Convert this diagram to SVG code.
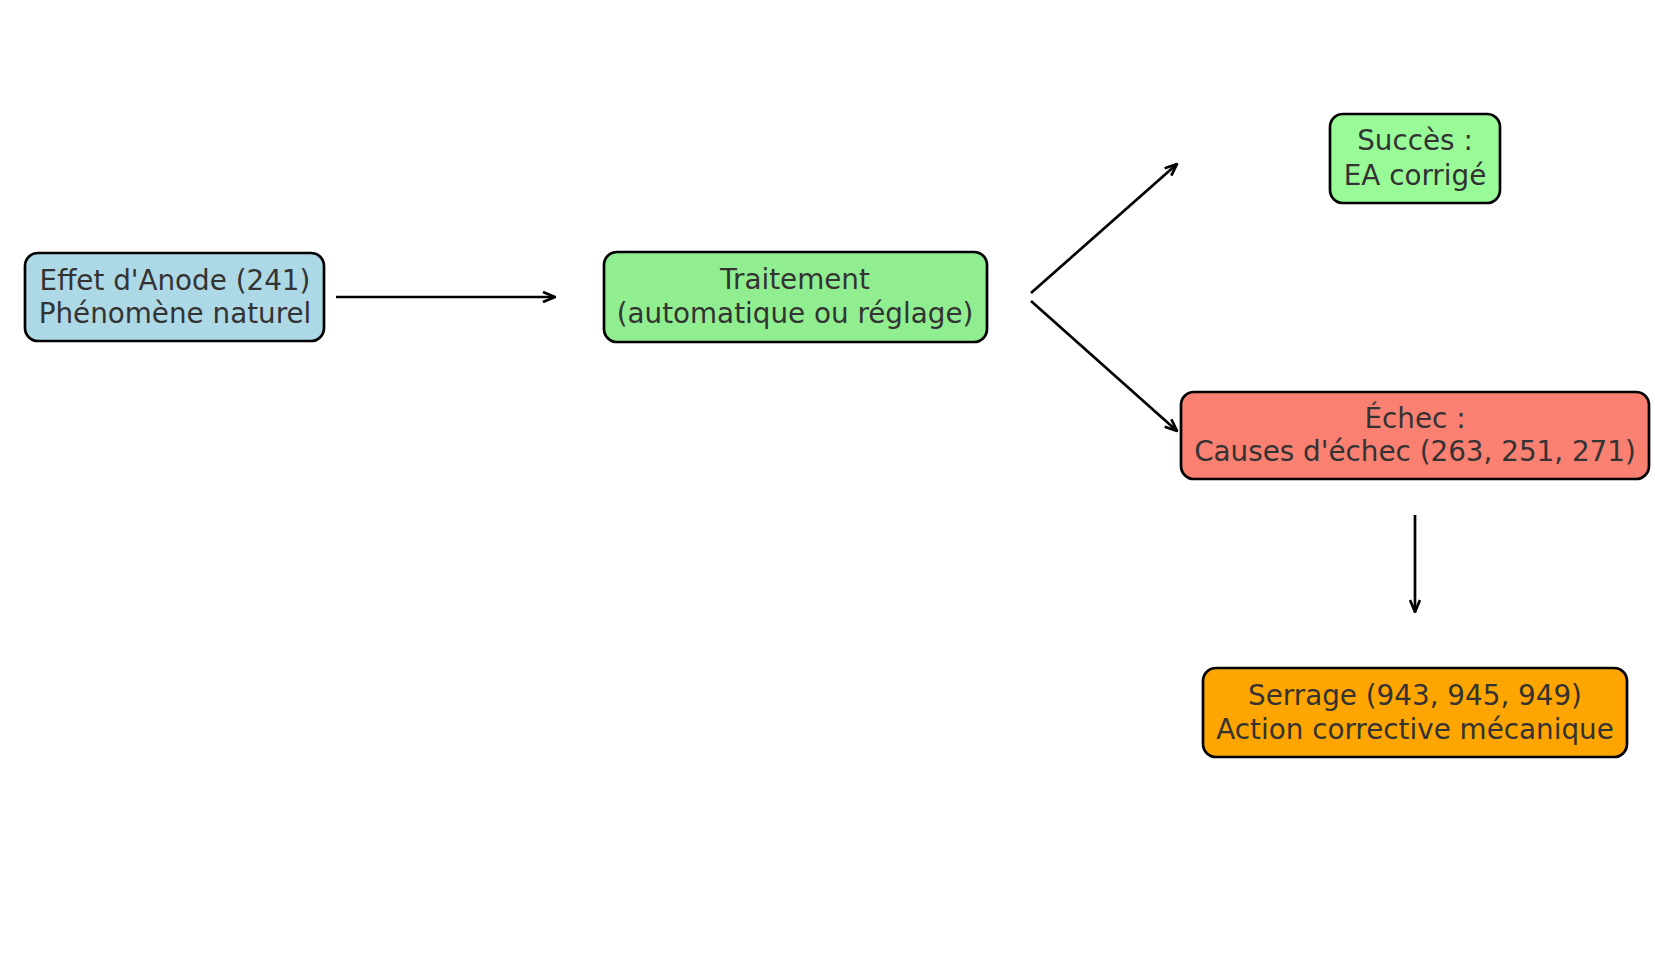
<svg xmlns="http://www.w3.org/2000/svg" width="1655" height="964" viewBox="0 0 1655 964">
<defs>
<style>
.box{stroke:#000;stroke-width:2.7}
.t{font-family:"DejaVu Sans",sans-serif;font-size:27.8px;fill:#333;text-anchor:middle}
.c{stroke:#000;stroke-width:2.7;fill:none;marker-end:url(#ah)}
</style>
<marker id="ah" viewBox="0 0 14 12" refX="13" refY="6" markerWidth="14" markerHeight="12" markerUnits="userSpaceOnUse" orient="auto">
<path d="M1,1 L13,6 L1,11" fill="none" stroke="#000" stroke-width="2.7"/>
</marker>
</defs>
<rect width="1655" height="964" fill="#fff"/>
<g id="connectors">
<line class="c" x1="336" y1="297" x2="555" y2="297"/>
<line class="c" x1="1031" y1="293" x2="1177" y2="164"/>
<line class="c" x1="1031" y1="301" x2="1177" y2="431"/>
<line class="c" x1="1415" y1="515" x2="1415" y2="612"/>
</g>
<g id="n1">
<rect class="box" x="25" y="253" width="299" height="88" rx="13" fill="#ADD8E6"/>
<text class="t" x="175" y="290">Effet d'Anode (241)</text>
<text class="t" x="175" y="323">Phénomène naturel</text>
</g>
<g id="n2">
<rect class="box" x="604" y="252" width="383" height="90" rx="13" fill="#90EE90"/>
<text class="t" x="795" y="289">Traitement</text>
<text class="t" x="795" y="323">(automatique ou réglage)</text>
</g>
<g id="n3">
<rect class="box" x="1330" y="114" width="170" height="89" rx="13" fill="#98FB98"/>
<text class="t" x="1415" y="150">Succès :</text>
<text class="t" x="1415" y="185">EA corrigé</text>
</g>
<g id="n4">
<rect class="box" x="1181" y="392" width="468" height="87" rx="13" fill="#FA8072"/>
<text class="t" x="1415" y="428">Échec :</text>
<text class="t" x="1415" y="461">Causes d'échec (263, 251, 271)</text>
</g>
<g id="n5">
<rect class="box" x="1203" y="668" width="424" height="89" rx="13" fill="#FFA500"/>
<text class="t" x="1415" y="705">Serrage (943, 945, 949)</text>
<text class="t" x="1415" y="739">Action corrective mécanique</text>
</g>
</svg>
